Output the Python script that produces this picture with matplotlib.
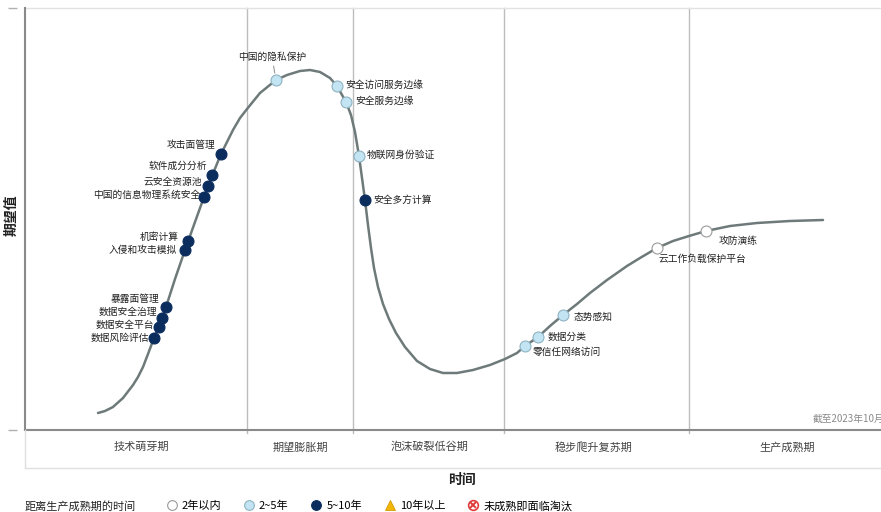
import matplotlib
matplotlib.use("Agg")
import matplotlib.pyplot as plt
from matplotlib.lines import Line2D

plt.rcParams['font.family'] = ['Noto Sans CJK SC', 'DejaVu Sans']

# hype curve (x = time, y = expectation)
curve_x = [73, 80, 88, 98, 108, 113, 118, 123, 129, 135, 141, 150, 160, 170, 179, 187,
           196, 208, 215, 222, 235, 251, 262, 275, 285, 295, 305, 312, 321, 326, 330,
           334, 337, 340, 343, 346, 349, 353, 358, 364, 371, 380, 392, 405, 418, 432,
           448, 465, 480, 492, 500, 513, 525, 538, 552, 565, 582, 602, 615, 632, 648,
           664, 681, 705, 732, 765, 798]
curve_y = [17, 19, 23, 32, 45, 53, 63, 76, 92, 107, 123, 151, 180, 208, 233, 254,
           276, 300, 312, 321, 337, 350, 355, 359, 360, 358, 352, 344, 328, 315, 298,
           274, 252, 230, 205, 182, 162, 143, 126, 111, 97, 83, 69, 61, 57, 57,
           60, 65, 71, 77, 84, 93, 104, 115, 126, 137, 150, 164, 172, 182, 189,
           194, 199, 204, 207, 209, 210]

# technologies on the curve
tech_names = ["攻击面管理", "软件成分分析", "云安全资源池", "中国的信息物理系统安全",
              "机密计算", "入侵和攻击模拟", "暴露面管理", "数据安全治理", "数据安全平台",
              "数据风险评估", "中国的隐私保护", "安全访问服务边缘", "安全服务边缘",
              "物联网身份验证", "安全多方计算", "零信任网络访问", "数据分类", "态势感知",
              "云工作负载保护平台", "攻防演练"]
tech_x = [196, 187, 183, 179, 163, 160, 141, 137, 134, 129, 251, 312, 321, 334, 340,
          500, 513, 538, 632, 681]
tech_y = [276, 255, 244, 233, 189, 180, 123, 112, 103, 92, 350, 344, 328, 274, 230,
          84, 93, 115, 182, 199]
tech_cat = ["5~10年"] * 10 + ["2~5年"] * 4 + ["5~10年"] + ["2~5年"] * 3 + ["2年以内"] * 2

phase_names = ["技术萌芽期", "期望膨胀期", "泡沫破裂低谷期", "稳步爬升复苏期", "生产成熟期"]
phase_bounds = [222, 328, 479, 664]
phase_centers = [116, 275, 405, 569, 762]

legend_labels = ["2年以内", "2~5年", "5~10年", "10年以上", "未成熟即面临淘汰"]

# label placement (pixel offsets from the dot, ha)
LABEL_POS = {
    "攻击面管理": (-6, 9, "right"), "软件成分分析": (-5, 9, "right"),
    "云安全资源池": (-6, 4, "right"), "中国的信息物理系统安全": (-4, 2, "right"),
    "机密计算": (-9, 4, "right"), "入侵和攻击模拟": (-8, 0, "right"),
    "暴露面管理": (-7, 8, "right"), "数据安全治理": (-5, 6, "right"),
    "数据安全平台": (-5, 2, "right"), "数据风险评估": (-5, 0, "right"),
    "中国的隐私保护": (-4, 23, "center"), "安全访问服务边缘": (8, 1, "left"),
    "安全服务边缘": (9, 1, "left"), "物联网身份验证": (8, 1, "left"),
    "安全多方计算": (8, 0, "left"), "零信任网络访问": (8, -6, "left"),
    "数据分类": (10, 0, "left"), "态势感知": (11, -2, "left"),
    "云工作负载保护平台": (2, -11, "left"), "攻防演练": (13, -10, "left"),
}
CAT_STYLE = {
    "2年以内": dict(color="white", edgecolor="#9a9a9a"),
    "2~5年": dict(color="#c3e4f2", edgecolor="#8fb3c2"),
    "5~10年": dict(color="#0b2d5e", edgecolor="#0b2d5e"),
}

W, H = 881, 512
fig = plt.figure(figsize=(W / 100, H / 100), dpi=100)
ax = fig.add_axes([25 / W, (H - 430) / H, 856 / W, 422 / H])
band = fig.add_axes([25 / W, (H - 468) / H, 856 / W, 38 / H])

ax.set_xlim(0, 856)
ax.set_ylim(0, 422)
ax.set_xticks([])
ax.set_yticks([0, 422])
ax.set_yticklabels([])
ax.spines['left'].set_position(('outward', 5.8))
ax.spines['left'].set_visible(False)
ax.spines['right'].set_visible(False)
ax.spines['top'].set_color('#e2e2e2')
ax.spines['top'].set_linewidth(1)
ax.spines['bottom'].set_color('#8a8a8a')
ax.spines['bottom'].set_linewidth(1.5)
ax.tick_params(axis='y', length=6.5, width=1, color='#b0b0b0', direction='out')
ax.axvline(0, color='#8a8a8a', lw=1.5, clip_on=False, zorder=3)

for b in phase_bounds:
    ax.plot([b, b], [-3, 422], color='#bdbdbd', lw=1, clip_on=False, zorder=1)

ax.plot(curve_x, curve_y, color='#6e7a7a', lw=1.8, zorder=2,
        solid_capstyle='round', solid_joinstyle='round')

for name, x, y, cat in zip(tech_names, tech_x, tech_y, tech_cat):
    st = CAT_STYLE[cat]
    ax.scatter(x, y, s=62, c=st["color"], edgecolors=st["edgecolor"], linewidths=0.8, zorder=4)
    dx, dy, ha = LABEL_POS[name]
    if name == "中国的隐私保护":
        ax.annotate(name, (x, y), xytext=(dx, dy), textcoords='offset pixels',
                    ha=ha, va='center', fontsize=7, color='#222222', zorder=3,
                    arrowprops=dict(arrowstyle='-', color='#999999', lw=0.8,
                                    shrinkA=1, shrinkB=5))
    else:
        ax.annotate(name, (x, y), xytext=(dx, dy), textcoords='offset pixels',
                    ha=ha, va='center', fontsize=7, color='#222222', zorder=3)

ax.text(788, 11, "截至2023年10月", fontsize=7, color='#8a8a8a', ha='left', va='center')

band.set_xlim(0, 856)
band.set_ylim(0, 1)
band.set_xticks([])
band.set_yticks([])
band.patch.set_alpha(0)
for s in ['top', 'right']:
    band.spines[s].set_visible(False)
for s in ['left', 'bottom']:
    band.spines[s].set_color('#e0e0e0')
    band.spines[s].set_linewidth(1)
for name, cx in zip(phase_names, phase_centers):
    band.text(cx, 0.55, name, ha='center', va='center', fontsize=8, color='#444444')

fig.text(12 / W, 1 - 215 / H, "期望值", rotation=90, ha='center', va='center',
         fontsize=10, fontweight='bold', color='#222222')
fig.text(462 / W, 1 - 480 / H, "时间", ha='center', va='center',
         fontsize=10, fontweight='bold', color='#222222')

fig.text(25 / W, 1 - 506 / H, "距离生产成熟期的时间", ha='left', va='center',
         fontsize=8, color='#222222')

handles = [
    Line2D([], [], ls='none', marker='o', ms=7, mfc='white', mec='#9a9a9a', mew=0.8),
    Line2D([], [], ls='none', marker='o', ms=7, mfc='#c3e4f2', mec='#8fb3c2', mew=0.8),
    Line2D([], [], ls='none', marker='o', ms=7, mfc='#0b2d5e', mec='#0b2d5e', mew=0.8),
    Line2D([], [], ls='none', marker='^', ms=7, mfc='#f2b705', mec='#d49a00', mew=0.6),
    (Line2D([], [], ls='none', marker='o', ms=7, mfc='white', mec='#e03c3c', mew=1.2),
     Line2D([], [], ls='none', marker='x', ms=4, mec='#e03c3c', mew=1.4)),
]
fig.legend(handles, legend_labels, loc='center left', bbox_to_anchor=(156 / W, 1 - 506 / H),
           ncol=5, frameon=False, fontsize=8, handlelength=1.0, handletextpad=0.4,
           columnspacing=2.0, borderpad=0.4)

fig.savefig("out.png", dpi=100)
